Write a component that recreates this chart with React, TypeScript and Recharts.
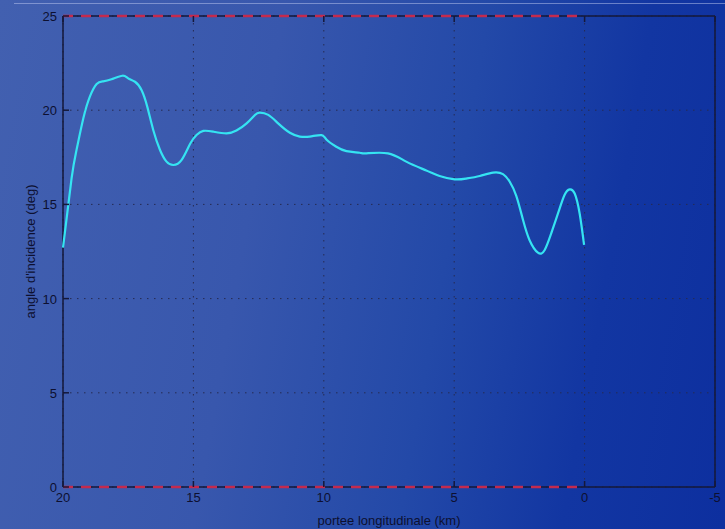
import { CartesianGrid, Line, LineChart, ReferenceLine, XAxis, YAxis } from 'recharts'

// portee longitudinale (km), from 20 down to 0
const rangeKm = [
  20, 19.67, 19.48, 19.22, 18.97, 18.71, 18.46, 18.14, 17.72, 17.5, 17.24, 16.99, 16.77, 16.54, 16.28, 16.03, 15.77,
  15.45, 15.13, 14.88, 14.62, 14.24, 13.73, 13.35, 12.96, 12.64, 12.45, 12.13, 11.75, 11.3, 10.92, 10.54, 10.09, 9.9,
  9.52, 9.13, 8.62, 8.37, 7.54, 6.84, 6.07, 5.56, 4.98, 4.54, 4.02, 3.51, 3.13, 2.87, 2.62, 2.36, 2.11, 1.79, 1.53,
  1.28, 1.02, 0.77, 0.57, 0.38, 0.19, 0.02,
]
// angle d'incidence (deg)
const incidenceDeg = [
  12.7, 16.39, 17.9, 19.57, 20.72, 21.39, 21.53, 21.64, 21.83, 21.69, 21.51, 21.07, 20.19, 18.95, 17.89, 17.27, 17.09,
  17.36, 18.2, 18.68, 18.9, 18.86, 18.77, 18.92, 19.3, 19.75, 19.87, 19.75, 19.3, 18.8, 18.6, 18.6, 18.68, 18.45,
  18.06, 17.83, 17.74, 17.71, 17.71, 17.27, 16.8, 16.51, 16.33, 16.37, 16.51, 16.69, 16.61, 16.2, 15.45, 14.17, 13.1,
  12.44, 12.58, 13.46, 14.52, 15.5, 15.8, 15.58, 14.52, 12.85,
]
const xTicks = [20, 15, 10, 5, 0, -5]
const yTicks = [0, 5, 10, 15, 20, 25]
const xMin = -5
const xMax = 20
const yMin = 0
const yMax = 25
const envelopeEnd = 0

const data = rangeKm.map((x, i) => ({ x, y: incidenceDeg[i] }))

const AXIS = '#14183a'
const RED = '#c42a4e'
const FONT = '"Liberation Sans", Arial, sans-serif'
const tickStyle = { fill: '#0d1030', fontSize: 13, fontFamily: FONT }
const TICK = 6

const BottomTick = (props: any) => {
  const { x, y, payload } = props
  return (
    <g>
      <line x1={x} x2={x} y1={y} y2={y - TICK} stroke={AXIS} strokeWidth={1.5} />
      <text x={x} y={y + 15} textAnchor="middle" style={tickStyle}>
        {payload.value}
      </text>
    </g>
  )
}

const TopTick = (props: any) => {
  const { x, y } = props
  return <line x1={x} x2={x} y1={y} y2={y + TICK} stroke={AXIS} strokeWidth={1.5} />
}

const LeftTick = (props: any) => {
  const { x, y, payload } = props
  return (
    <g>
      <line x1={x} x2={x + TICK} y1={y} y2={y} stroke={AXIS} strokeWidth={1.5} />
      <text x={x - 6} y={y + 5} textAnchor="end" style={tickStyle}>
        {payload.value}
      </text>
    </g>
  )
}

const RightTick = (props: any) => {
  const { x, y } = props
  return <line x1={x} x2={x - TICK} y1={y} y2={y} stroke={AXIS} strokeWidth={1.5} />
}

const frame = [
  [{ x: xMax, y: yMin }, { x: xMin, y: yMin }],
  [{ x: xMax, y: yMax }, { x: xMin, y: yMax }],
  [{ x: xMax, y: yMin }, { x: xMax, y: yMax }],
  [{ x: xMin, y: yMin }, { x: xMin, y: yMax }],
]

export default function App() {
  return (
    <div
      style={{
        position: 'fixed',
        left: 0,
        top: 0,
        width: 725,
        height: 529,
        background: 'linear-gradient(100deg, #4260b0 0%, #3857ad 35%, #2349a8 60%, #1236a2 80%, #0d2f9f 100%)',
      }}>
      <div style={{ position: 'absolute', left: 14, right: 0, top: 3, height: 1, background: 'rgba(190,200,240,0.5)' }} />
      <LineChart width={725} height={529} data={data} margin={{ top: 15, right: 9, bottom: 0, left: 0 }}>
        <CartesianGrid xAxisId="bottom" yAxisId="left" stroke="#262b52" strokeDasharray="1.5 5.5" />
        <XAxis
          xAxisId="bottom"
          dataKey="x"
          type="number"
          domain={[xMin, xMax]}
          ticks={xTicks}
          reversed
          height={42}
          axisLine={false}
          tickLine={false}
          tickSize={0}
          tickMargin={0}
          tick={<BottomTick />}
          label={{ value: 'portee longitudinale (km)', position: 'insideBottom', offset: 4, style: tickStyle }}
        />
        <XAxis
          xAxisId="top"
          orientation="top"
          dataKey="x"
          type="number"
          domain={[xMin, xMax]}
          ticks={xTicks}
          reversed
          height={1}
          axisLine={false}
          tickLine={false}
          tickSize={0}
          tickMargin={0}
          tick={<TopTick />}
        />
        <YAxis
          yAxisId="left"
          type="number"
          domain={[yMin, yMax]}
          ticks={yTicks}
          width={63}
          axisLine={false}
          tickLine={false}
          tickSize={0}
          tickMargin={0}
          tick={<LeftTick />}
          label={{ value: "angle d'incidence (deg)", angle: -90, position: 'insideLeft', offset: 30, style: { ...tickStyle, textAnchor: 'middle' } }}
        />
        <YAxis
          yAxisId="right"
          orientation="right"
          type="number"
          domain={[yMin, yMax]}
          ticks={yTicks}
          width={1}
          axisLine={false}
          tickLine={false}
          tickSize={0}
          tickMargin={0}
          tick={<RightTick />}
        />
        {frame.map((seg, i) => (
          <ReferenceLine
            key={`frame-${i}`}
            xAxisId="bottom"
            yAxisId="left"
            segment={seg}
            stroke={AXIS}
            strokeWidth={1.5}
            ifOverflow="visible"
          />
        ))}
        {[yMin, yMax].map((v) => (
          <ReferenceLine
            key={`env-${v}`}
            xAxisId="bottom"
            yAxisId="left"
            segment={[{ x: xMax, y: v }, { x: envelopeEnd, y: v }]}
            stroke={RED}
            strokeWidth={2.5}
            strokeDasharray="10 8"
            ifOverflow="visible"
          />
        ))}
        <Line
          xAxisId="bottom"
          yAxisId="left"
          dataKey="y"
          type="natural"
          stroke="#35e4f2"
          strokeWidth={2.2}
          dot={false}
          isAnimationActive={false}
        />
      </LineChart>
    </div>
  )
}
